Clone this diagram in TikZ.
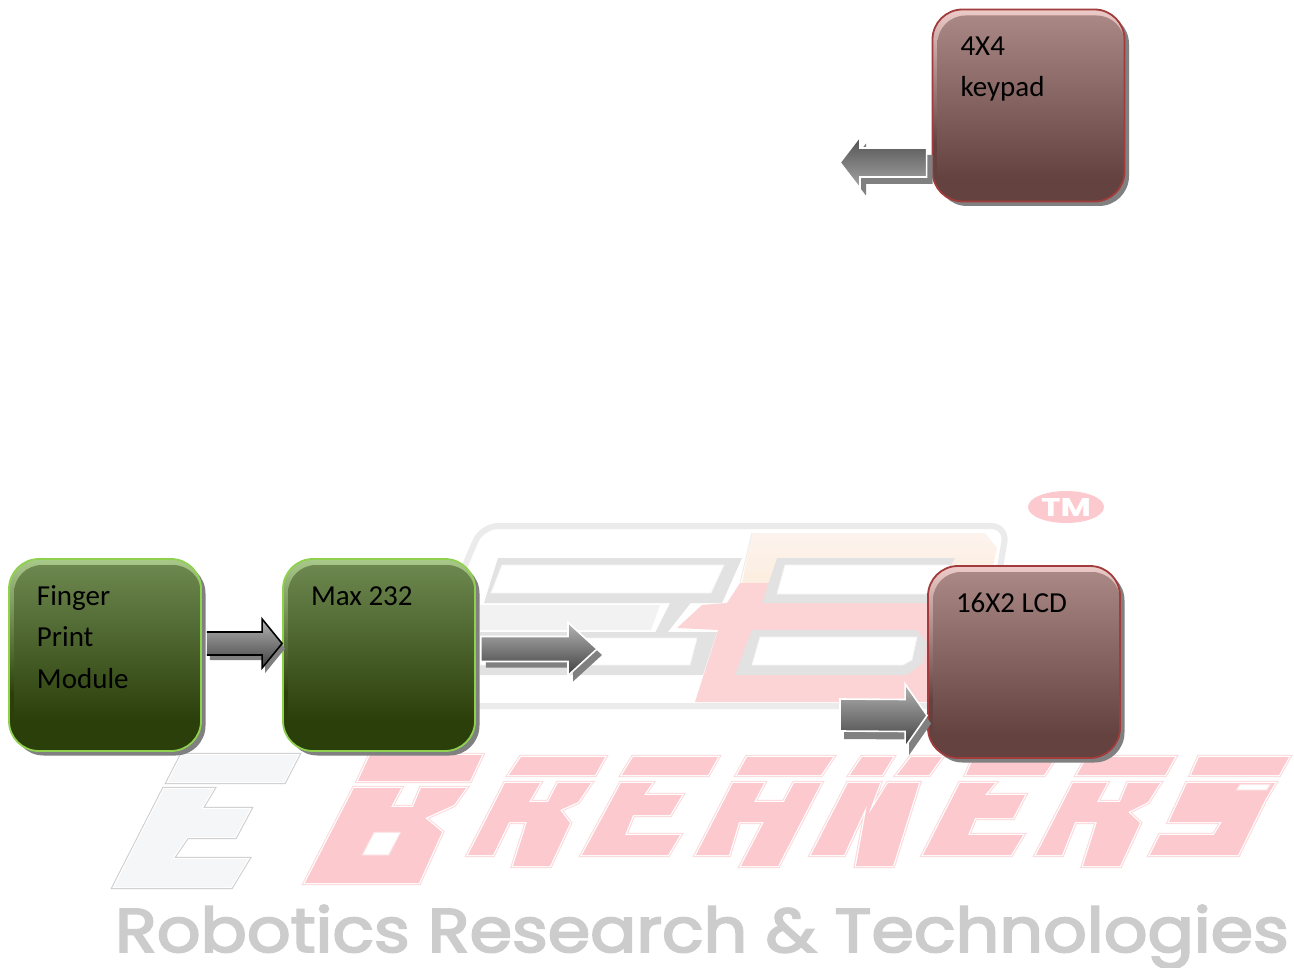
\documentclass[tikz,border=0pt]{standalone}
\usepackage{fontspec}
\setmainfont{Carlito}
\newfontfamily\wmfont{Poppins}
\newfontfamily\wmcap[FakeBold=3]{Poppins}
\usetikzlibrary{calc,shadows}
\definecolor{brownT}{HTML}{AB8A87}
\definecolor{brownB}{HTML}{63423F}
\definecolor{brownRim}{HTML}{EDCBC9}
\definecolor{brownLine}{HTML}{A23B3B}
\definecolor{greenT}{HTML}{6F8A52}
\definecolor{greenB}{HTML}{2B3F0A}
\definecolor{greenRim}{HTML}{A9C98B}
\definecolor{greenLine}{HTML}{8FD14F}
\definecolor{shadowgrey}{HTML}{808080}
\definecolor{wmpink}{HTML}{FCC9CE}
\definecolor{wmpinkline}{HTML}{FBD9DC}
\definecolor{wmgrey}{HTML}{CCCCCC}
\definecolor{wmpale}{HTML}{F5F6F8}
\definecolor{logopink}{HTML}{FCD4D5}
\definecolor{logogrey}{HTML}{E2E2E2}
\definecolor{logopeachT}{HTML}{FDF3EE}
\definecolor{logopeachB}{HTML}{FCEEDF}
\definecolor{aLight}{HTML}{B4B4B4}
\definecolor{aDark}{HTML}{404040}
\definecolor{rLight}{HTML}{A6A6A6}
\definecolor{rDark}{HTML}{505050}
% a shading's middle band, 25bp to 75bp, is what spans the shape's height
\pgfdeclareverticalshading{brownbody}{100bp}{color(0bp)=(brownB);color(31bp)=(brownB);color(75bp)=(brownT);color(100bp)=(brownT)}
\pgfdeclareverticalshading{brownrim}{100bp}{color(0bp)=(brownB);color(40bp)=(brownB);color(75bp)=(brownRim);color(100bp)=(brownRim)}
\pgfdeclareverticalshading{greenbody}{100bp}{color(0bp)=(greenB);color(33bp)=(greenB);color(75bp)=(greenT);color(100bp)=(greenT)}
\pgfdeclareverticalshading{greenrim}{100bp}{color(0bp)=(greenB);color(40bp)=(greenB);color(75bp)=(greenRim);color(100bp)=(greenRim)}
\pgfdeclareverticalshading{arrowdown}{100bp}{color(0bp)=(aDark);color(25bp)=(aDark);color(75bp)=(aLight);color(100bp)=(aLight)}
\pgfdeclareverticalshading{arrowrev}{100bp}{color(0bp)=(rLight);color(25bp)=(rLight);color(75bp)=(rDark);color(100bp)=(rDark)}
\pgfdeclareverticalshading{logotop}{100bp}{color(0bp)=(logopeachB);color(25bp)=(logopeachB);color(75bp)=(logopeachT);color(100bp)=(logopeachT)}
\tikzset{
  basebox/.style={rectangle,rounded corners=30pt,minimum width=192pt,minimum height=192pt,inner sep=0pt,line width=1.8pt,
    drop shadow={shadow xshift=4.5pt,shadow yshift=-4.5pt,fill=shadowgrey,opacity=1}},
  brownbox/.style={basebox,draw=brownLine,shading=brownrim,
    path picture={\shade[shading=brownbody,rounded corners=28pt] ([xshift=5pt,yshift=-6pt]path picture bounding box.north west) rectangle (path picture bounding box.south east);}},
  greenbox/.style={basebox,draw=greenLine,shading=greenrim,
    path picture={\shade[shading=greenbody,rounded corners=28pt] ([xshift=5pt,yshift=-6pt]path picture bounding box.north west) rectangle (path picture bounding box.south east);}},
  arrowshadow/.style={fill=shadowgrey},
  blackline/.style={draw=black,line width=1.6pt},
  whiteline/.style={draw=white,line width=1.6pt},
  wmred/.style={fill=wmpink,preaction={draw=wmpinkline,line width=4.4pt},preaction={draw=white,line width=2.4pt}},
  wmpaleshape/.style={fill=wmpale,preaction={draw=wmgrey,line width=4.4pt},preaction={draw=white,line width=2.4pt}},
  wmhole/.style={fill=white,draw=wmpinkline,line width=1pt},
  logoedge/.style={draw=black!8,line width=6pt,rounded corners=16pt},
  logoinner/.style={fill=white,draw=black!4,line width=.8pt},
}
\newcommand{\boxlines}[1]{\parbox[c][192pt][t]{192pt}{\fontsize{29}{41.5}\selectfont\raggedright\leftskip=28pt\relax\vspace*{4.5pt}\rule{0pt}{41.5pt}#1\par}}
% #1 from, #2 tip, #3 half shaft, #4 half head, #5 signed head length, #6 shading, #7 line look, #8 shadow shift x,y, #9 closing
\newcommand{\blockarrow}[9]{%
  \fill[arrowshadow] ($(#1)+(#8)+(0,-#3)$) -- ($(#2)+(#8)-(#5,#3)$) -- ($(#2)+(#8)-(#5,#4)$) -- ($(#2)+(#8)$) -- ($(#2)+(#8)+(-#5,#4)$) -- ($(#2)+(#8)+(-#5,#3)$) -- ($(#1)+(#8)+(0,#3)$) -- cycle;
  \shade[shading=#6] ($(#1)+(0,-#3)$) -- ($(#2)-(#5,#3)$) -- ($(#2)-(#5,#4)$) -- (#2) -- ($(#2)+(-#5,#4)$) -- ($(#2)+(-#5,#3)$) -- ($(#1)+(0,#3)$) -- cycle;
  \draw[#7] ($(#1)+(0,-#3)$) -- ($(#2)-(#5,#3)$) -- ($(#2)-(#5,#4)$) -- (#2) -- ($(#2)+(-#5,#4)$) -- ($(#2)+(-#5,#3)$) -- ($(#1)+(0,#3)$) #9;
}
\begin{document}
\begin{tikzpicture}[x=1pt,y=-1pt]
\useasboundingbox (0,0) rectangle (1294,968);
\fill[white] (0,0) rectangle (1294,968);
% --- watermark: logo
\draw[logoedge] (450,706) -- (940,706) -- (998,580) -- (1007,526) -- (482,526) -- (450,600) -- cycle;
\shade[shading=logotop] (752,533) -- (985,533) -- (997,548) -- (989,583) -- (742,583) -- cycle;
\fill[logopink] (740,583) -- (989,583) -- (960,702) -- (695,702) -- (718,630) -- (677,628) -- (702,605) -- (727,603) -- cycle;
\draw[draw=black!7,line width=1pt] (752,533) -- (740,583);
\fill[logogrey] (498,558) -- (742,558) -- (722,603) -- (659,603) -- (484,603) -- cycle;
\path[logoinner] (502,565) -- (724,565) -- (711,593) -- (491,593) -- cycle;
\fill[black!5] (480,605) -- (660,605) -- (651,630) -- (480,630) -- cycle;
\fill[logogrey] (673,597) -- (697,595) -- (667,633) -- (655,633) -- cycle;
\fill[logogrey] (480,632) -- (717,632) -- (703,675) -- (480,675) -- cycle;
\path[logoinner] (480,638) -- (697,638) -- (690,665) -- (480,665) -- cycle;
\fill[logogrey] (777,558) -- (955,558) -- (930,603) -- (762,603) -- cycle;
\path[logoinner] (785,565) -- (950,565) -- (930,594) -- (777,594) -- cycle;
\fill[logogrey] (752,630) -- (917,630) -- (927,643) -- (923,663) -- (907,675) -- (735,675) -- cycle;
\path[logoinner] (760,637) -- (917,637) -- (912,660) -- (903,665) -- (752,665) -- cycle;
\fill[wmpink] (1066,507) ellipse [x radius=38,y radius=16];
\node[inner sep=0pt,text=white] (tm) at (1066,507) {\resizebox{50pt}{18pt}{\wmfont\bfseries TM}};
% --- watermark: E
\path[wmpaleshape] (168,782) -- (182,755) -- (298,755) -- (284,782) -- cycle;
\path[wmpaleshape] (114,887) -- (164,789) -- (213,789) -- (201,809) -- (250,809) -- (235,837) -- (187,837) -- (172,859) -- (248,859) -- (231,887) -- cycle;
% --- watermark: BREAKERS
\path[wmred] (358,781) -- (370,755) -- (482,755) -- (470,781) -- cycle;
\path[wmred] (305,883) -- (354,788) -- (401,788) -- (391,807) -- (413,807) -- (421,788) -- (466,788) -- (454,805) -- (425,818) -- (442,832) -- (419,883) -- cycle;
\path[wmhole] (362,855) -- (374,832) -- (401,832) -- (389,855) -- cycle;
\path[wmred] (509,775) -- (521,757) -- (605,757) -- (595,775) -- cycle;
\path[wmred] (468,855) -- (505,783) -- (540,783) -- (529,802) -- (548,802) -- (558,783) -- (591,783) -- (578,802) -- (560,810) -- (570,823) -- (550,866) -- (513,866) -- (527,822) -- (509,822) -- (493,855) -- cycle;
\path[wmred] (622,775) -- (633,757) -- (718,757) -- (708,775) -- cycle;
\path[wmred] (582,855) -- (621,783) -- (652,783) -- (644,795) -- (682,795) -- (670,815) -- (633,815) -- (625,835) -- (680,835) -- (668,855) -- cycle;
\path[wmred] (737,775) -- (747,757) -- (833,757) -- (821,775) -- cycle;
\path[wmred] (696,855) -- (733,783) -- (764,783) -- (754,802) -- (784,802) -- (794,783) -- (821,783) -- (778,866) -- (741,866) -- (764,822) -- (739,822) -- (729,855) -- cycle;
\path[wmred] (850,775) -- (862,757) -- (893,757) -- (882,775) -- cycle;
\path[wmred] (897,775) -- (911,757) -- (942,757) -- (929,775) -- cycle;
\path[wmred] (811,855) -- (848,783) -- (880,783) -- (868,815) -- (888,783) -- (919,783) -- (893,866) -- (856,866) -- (867,805) -- (844,855) -- cycle;
\path[wmred] (966,775) -- (974,757) -- (1056,757) -- (1044,775) -- cycle;
\path[wmred] (923,855) -- (960,783) -- (995,783) -- (985,795) -- (1025,795) -- (1013,818) -- (975,818) -- (968,835) -- (1023,835) -- (1011,855) -- cycle;
\path[wmred] (1077,775) -- (1087,757) -- (1175,757) -- (1165,775) -- cycle;
\path[wmred] (1036,855) -- (1073,783) -- (1107,783) -- (1097,802) -- (1120,802) -- (1128,783) -- (1160,783) -- (1148,802) -- (1128,812) -- (1140,823) -- (1120,866) -- (1083,866) -- (1097,822) -- (1075,822) -- (1062,855) -- cycle;
\path[wmred] (1191,775) -- (1199,757) -- (1289,757) -- (1279,775) -- cycle;
\path[wmred] (1150,855) -- (1160,835) -- (1214,835) -- (1222,822) -- (1169,822) -- (1187,783) -- (1275,783) -- (1265,800) -- (1238,855) -- cycle;
\path[wmhole] (1236,790) -- (1240,784) -- (1271,784) -- (1267,790) -- cycle;
% --- watermark: caption
\node[inner sep=0pt,anchor=base west,text=wmgrey] (caption) at (115,952) {\resizebox{1173pt}{47pt}{\wmcap Robotics Research \& Technologies}};
% --- boxes
\node[brownbox] (keypad) at (1028.5,105.5) {\boxlines{4X4\\keypad}};
\node[greenbox] (finger) at (105,655) {\boxlines{Finger\\Print\\Module}};
\node[greenbox] (max) at (379,655) {\boxlines{Max 232}};
\node[brownbox] (lcd) at (1024,662) {\boxlines{16X2 LCD}};
% --- ends of connectors
\coordinate (fingerout) at ($(finger.east)+(5,-11.5)$);
\coordinate (maxin) at ($(max.west)+(0,-11.5)$);
\coordinate (maxstart) at ($(max.east)+(5,-6)$);
\coordinate (maxout) at (597,649);
\coordinate (keystart) at ($(keypad.west)+(-5,57)$);
\coordinate (keyout) at (840,162.5);
\coordinate (lcdstart) at (840,715);
\coordinate (lcdin) at ($(lcd.west)+(0,53.5)$);
% --- connectors
\blockarrow{fingerout}{maxin}{11.5}{24.5}{20}{arrowdown}{blackline}{3,5}{}
\blockarrow{maxstart}{maxout}{12.5}{26.5}{29}{arrowdown}{whiteline}{5,6}{-- cycle}
\blockarrow{keystart}{keyout}{14.5}{26}{-20}{arrowrev}{whiteline}{6,7}{-- cycle}
\blockarrow{lcdstart}{lcdin}{16}{31.5}{22}{arrowdown}{whiteline}{4,8}{-- cycle}
\end{tikzpicture}
\end{document}
